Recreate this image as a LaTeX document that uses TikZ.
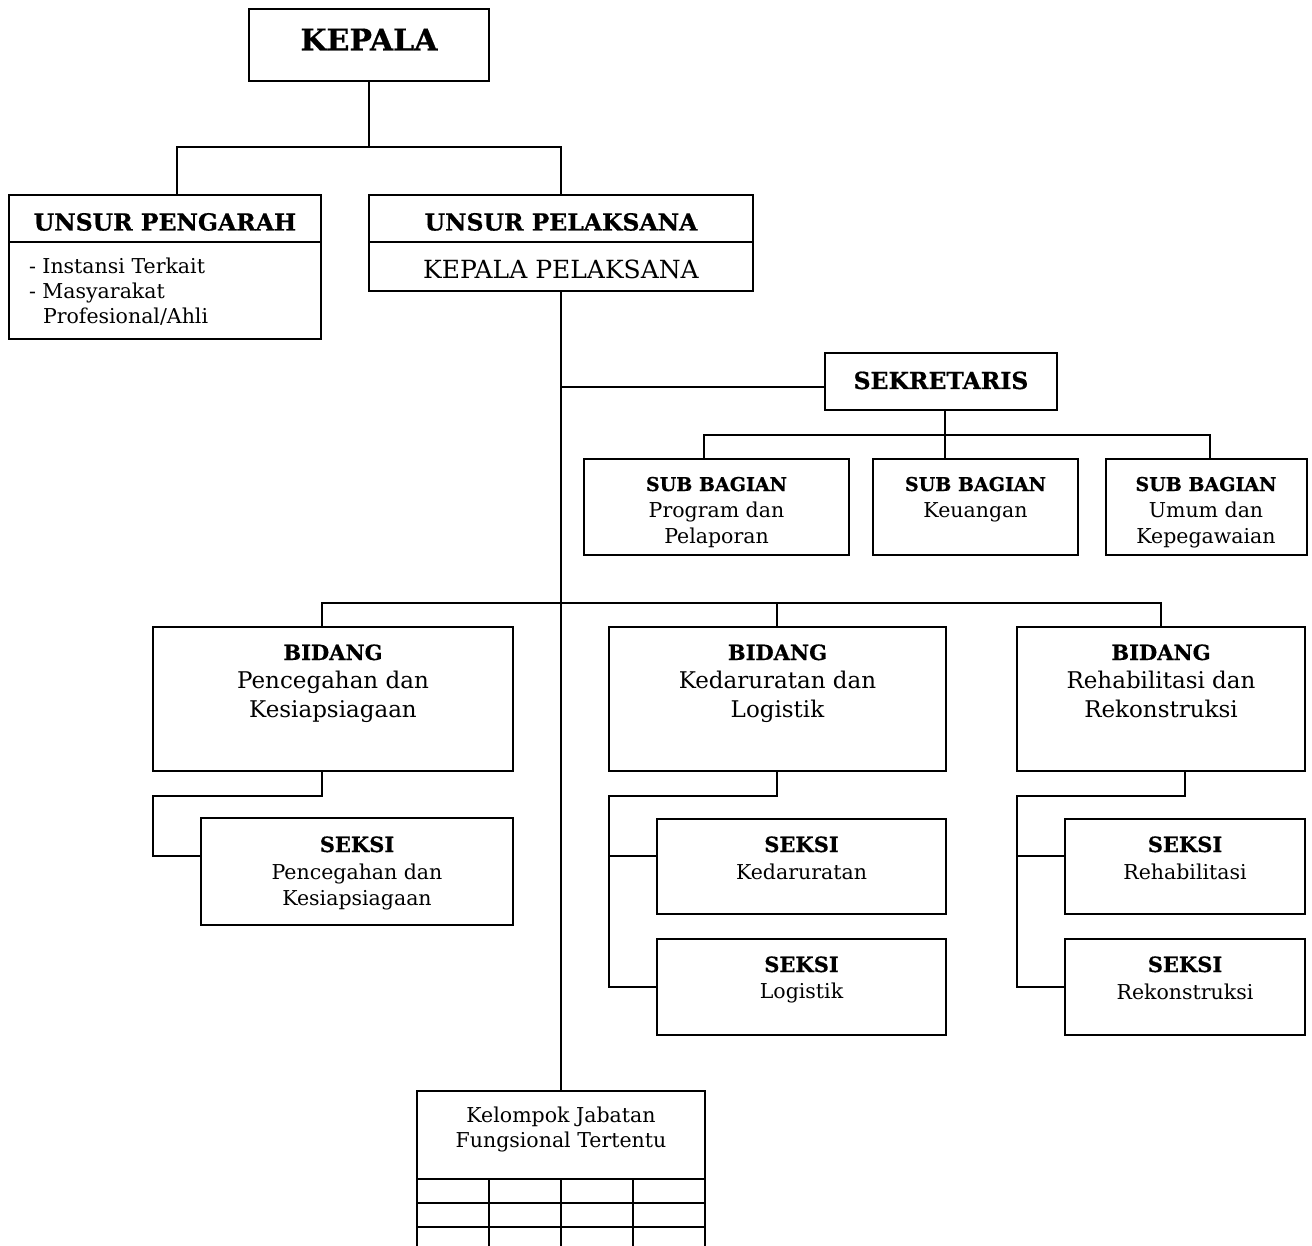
\documentclass[tikz,border=0pt]{standalone}
\usepackage{fontspec}
\setmainfont[BoldFeatures={FakeBold=0.6}]{DejaVu Serif}
\begin{document}
\begin{tikzpicture}[x=1pt,y=-1pt,
  every path/.style={line width=2pt},
  obox/.style={draw, line width=2pt, inner sep=0pt, outer sep=0pt},
  lbl/.style={anchor=base, inner sep=0pt, outer sep=0pt},
  lblw/.style={anchor=base west, inner sep=0pt, outer sep=0pt},
  fK/.style={font=\fontsize{30}{34}\selectfont\bfseries},
  fU/.style={font=\fontsize{23.5}{28}\selectfont\bfseries},
  fUr/.style={font=\fontsize{25}{29}\selectfont},
  fL/.style={font=\fontsize{20.5}{24}\selectfont},
  fSb/.style={font=\fontsize{19}{24}\selectfont\bfseries},
  fSr/.style={font=\fontsize{20.5}{24}\selectfont},
  fBb/.style={font=\fontsize{21}{25}\selectfont\bfseries},
  fBr/.style={font=\fontsize{23}{27}\selectfont},
  fKl/.style={font=\fontsize{20.5}{24}\selectfont}]
\useasboundingbox[fill=white] (0,0) rectangle (1312,1246);

% boxes
\node[obox, minimum width=240pt, minimum height=72pt] (kepala) at (369,45) {};
\node[obox, minimum width=312pt, minimum height=144pt] (pengarah) at (165,267) {};
\node[obox, minimum width=384pt, minimum height=96pt] (pelaksana) at (561,243) {};
\node[obox, minimum width=232pt, minimum height=57pt] (sekretaris) at (941,381.5) {};
\node[obox, minimum width=265pt, minimum height=96pt] (sub1) at (716.5,506.5) {};
\node[obox, minimum width=205pt, minimum height=96pt] (sub2) at (975.5,506.5) {};
\node[obox, minimum width=201pt, minimum height=96pt] (sub3) at (1206,506.5) {};
\node[obox, minimum width=360pt, minimum height=144pt] (bid1) at (333,699) {};
\node[obox, minimum width=337pt, minimum height=144pt] (bid2) at (777.5,699) {};
\node[obox, minimum width=288pt, minimum height=144pt] (bid3) at (1161,699) {};
\node[obox, minimum width=312pt, minimum height=107pt] (sek1) at (357,871.5) {};
\node[obox, minimum width=289pt, minimum height=95pt] (sek2a) at (801.5,866.5) {};
\node[obox, minimum width=289pt, minimum height=96pt] (sek2b) at (801.5,987) {};
\node[obox, minimum width=240pt, minimum height=95pt] (sek3a) at (1185,866.5) {};
\node[obox, minimum width=240pt, minimum height=96pt] (sek3b) at (1185,987) {};
\node[obox, minimum width=288pt, minimum height=88pt] (kelompok) at (561,1135) {};

% dividers inside UNSUR boxes
\draw (pengarah.west |- 0,242) -- (pengarah.east |- 0,242);
\draw (pelaksana.west |- 0,242) -- (pelaksana.east |- 0,242);

% table below kelompok
\coordinate (kb) at (561,1246);
\draw (kelompok.south west) -- (kelompok.south west |- kb);
\draw (kelompok.south east) -- (kelompok.south east |- kb);
\foreach \yy in {1203,1227} \draw (kelompok.west |- 0,\yy) -- (kelompok.east |- 0,\yy);
\foreach \xx in {489,561,633} \draw (kelompok.south -| \xx,0) -- (\xx,1246);

% texts
\node[lbl, fK] (tkepala) at (369,50.5) {KEPALA};
\node[lbl, fU] (tpengarah) at (165,230.5) {UNSUR PENGARAH};
\node[lbl, fU] (tpelaksana) at (561,230.5) {UNSUR PELAKSANA};
\node[lbl, fUr] (tkp) at (561,278.5) {KEPALA PELAKSANA};
\node[lblw, fL] (tl1) at (29,274) {- Instansi Terkait};
\node[lblw, fL] (tl2) at (29,299) {- Masyarakat};
\node[lblw, fL] (tl3) at (43,324) {Profesional/Ahli};
\node[lbl, fU] (tsek) at (941,389) {SEKRETARIS};

\node[lbl, fSb] (ts1a) at (716.5,491) {SUB BAGIAN};
\node[lbl, fSr] (ts1b) at (716.5,517) {Program dan};
\node[lbl, fSr] (ts1c) at (716.5,543) {Pelaporan};
\node[lbl, fSb] (ts2a) at (975.5,491) {SUB BAGIAN};
\node[lbl, fSr] (ts2b) at (975.5,517) {Keuangan};
\node[lbl, fSb] (ts3a) at (1206,491) {SUB BAGIAN};
\node[lbl, fSr] (ts3b) at (1206,517) {Umum dan};
\node[lbl, fSr] (ts3c) at (1206,543) {Kepegawaian};

\node[lbl, fBb] (tb1a) at (333,660) {BIDANG};
\node[lbl, fBr] (tb1b) at (333,688) {Pencegahan dan};
\node[lbl, fBr] (tb1c) at (333,717) {Kesiapsiagaan};
\node[lbl, fBb] (tb2a) at (777.5,660) {BIDANG};
\node[lbl, fBr] (tb2b) at (777.5,688) {Kedaruratan dan};
\node[lbl, fBr] (tb2c) at (777.5,717) {Logistik};
\node[lbl, fBb] (tb3a) at (1161,660) {BIDANG};
\node[lbl, fBr] (tb3b) at (1161,688) {Rehabilitasi dan};
\node[lbl, fBr] (tb3c) at (1161,717) {Rekonstruksi};

\node[lbl, fBb] (tk1a) at (357,852) {SEKSI};
\node[lbl, fSr] (tk1b) at (357,879) {Pencegahan dan};
\node[lbl, fSr] (tk1c) at (357,905) {Kesiapsiagaan};
\node[lbl, fBb] (tk2a) at (801.5,852) {SEKSI};
\node[lbl, fSr] (tk2b) at (801.5,879) {Kedaruratan};
\node[lbl, fBb] (tk3a) at (801.5,972) {SEKSI};
\node[lbl, fSr] (tk3b) at (801.5,998) {Logistik};
\node[lbl, fBb] (tk4a) at (1185,852) {SEKSI};
\node[lbl, fSr] (tk4b) at (1185,879) {Rehabilitasi};
\node[lbl, fBb] (tk5a) at (1185,972) {SEKSI};
\node[lbl, fSr] (tk5b) at (1185,999) {Rekonstruksi};

\node[lbl, fKl] (tkl1) at (561,1122) {Kelompok Jabatan};
\node[lbl, fKl] (tkl2) at (561,1147) {Fungsional Tertentu};

% connectors
\coordinate (a1) at (177,147);
\coordinate (a2) at (561,147);
\draw (kepala.south) -- (kepala.south |- a1);
\draw (pengarah.north -| a1) -- (a1) -- (a2) -- (pelaksana.north -| a2);
\draw (pelaksana.south) -- (kelompok.north);

\coordinate (s1) at (561,387);
\draw (s1) -- (sekretaris.west |- s1);
\coordinate (s2) at (945,435);
\coordinate (s3) at (704,435);
\coordinate (s4) at (1210,435);
\draw (sekretaris.south -| s2) -- (s2);
\draw (sub1.north -| s3) -- (s3) -- (s4) -- (sub3.north -| s4);
\draw (s2) -- (sub2.north -| s2);

\coordinate (b1) at (322,603);
\coordinate (b2) at (777,603);
\coordinate (b3) at (1161,603);
\draw (bid1.north -| b1) -- (b1) -- (b3) -- (bid3.north -| b3);
\draw (b2) -- (bid2.north -| b2);

\coordinate (c1) at (322,796);
\coordinate (c2) at (153,796);
\coordinate (c3) at (153,856);
\draw (bid1.south -| c1) -- (c1) -- (c2) -- (c3) -- (sek1.west |- c3);

\coordinate (d1) at (777,796);
\coordinate (d2) at (609,796);
\coordinate (d3) at (609,856);
\coordinate (d4) at (609,987);
\draw (bid2.south -| d1) -- (d1) -- (d2) -- (d4) -- (sek2b.west |- d4);
\draw (d3) -- (sek2a.west |- d3);

\coordinate (e1) at (1185,796);
\coordinate (e2) at (1017,796);
\coordinate (e3) at (1017,856);
\coordinate (e4) at (1017,987);
\draw (bid3.south -| e1) -- (e1) -- (e2) -- (e4) -- (sek3b.west |- e4);
\draw (e3) -- (sek3a.west |- e3);
\end{tikzpicture}
\end{document}
